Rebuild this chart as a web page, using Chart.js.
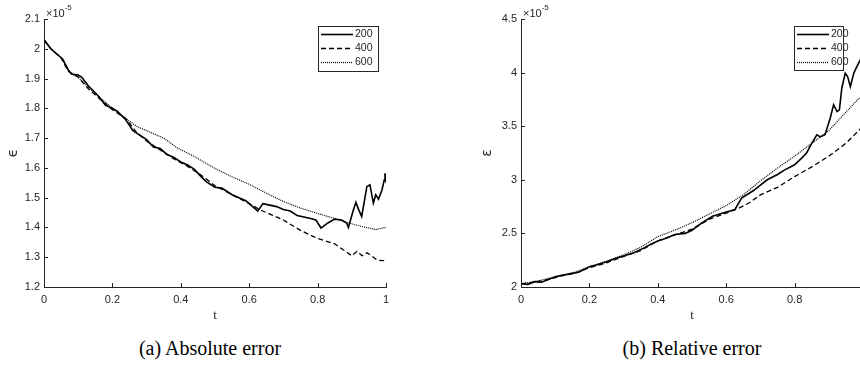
<!DOCTYPE html>
<html>
<head>
<meta charset="utf-8">
<script src="https://cdn.jsdelivr.net/npm/chart.js@4.4.1/dist/chart.umd.min.js"></script>
<style>
html, body { margin: 0; padding: 0; background: #fff; width: 860px; height: 379px; overflow: hidden; position: relative; }
canvas { position: absolute; top: 0; }
#absChart { left: 0; }
#relChart { left: 470px; }
.cap { position: absolute; top: 337px; font-family: "Liberation Serif", "Times New Roman", serif; font-size: 20px; color: #000; white-space: nowrap; transform: translateX(-50%); }
</style>
</head>
<body>
<canvas id="absChart" width="420" height="330"></canvas>
<canvas id="relChart" width="410" height="330"></canvas>
<div class="cap" style="left:210px">(a) Absolute error</div>
<div class="cap" style="left:692px">(b) Relative error</div>
<script>
// values are in units of 1e-5
const seriesLabels = ["200", "400", "600"];
const xTickVals = [0, 0.2, 0.4, 0.6, 0.8, 1];
const absYTicks = [1.2, 1.3, 1.4, 1.5, 1.6, 1.7, 1.8, 1.9, 2, 2.1];
const relYTicks = [2, 2.5, 3, 3.5, 4, 4.5];

// (a) absolute error
const absT200 = [0, 0.01, 0.02, 0.04, 0.055, 0.07, 0.08, 0.1, 0.11, 0.13, 0.16, 0.18, 0.2, 0.215, 0.24, 0.26, 0.28, 0.3, 0.32, 0.34, 0.36, 0.38, 0.4, 0.42, 0.44, 0.46, 0.475, 0.5, 0.52, 0.55, 0.57, 0.59, 0.605, 0.625, 0.64, 0.66, 0.68, 0.7, 0.72, 0.74, 0.76, 0.78, 0.795, 0.81, 0.83, 0.85, 0.87, 0.885, 0.89, 0.905, 0.912, 0.92, 0.929, 0.944, 0.953, 0.963, 0.97, 0.978, 0.988, 0.995, 0.997, 1];
const absE200 = [2.03, 2.015, 2.0, 1.98, 1.965, 1.93, 1.915, 1.912, 1.905, 1.875, 1.84, 1.81, 1.80, 1.79, 1.76, 1.725, 1.71, 1.695, 1.67, 1.665, 1.645, 1.635, 1.62, 1.61, 1.595, 1.57, 1.553, 1.535, 1.532, 1.51, 1.5, 1.49, 1.475, 1.455, 1.48, 1.475, 1.47, 1.46, 1.455, 1.44, 1.435, 1.43, 1.425, 1.398, 1.415, 1.428, 1.425, 1.415, 1.40, 1.46, 1.484, 1.46, 1.437, 1.537, 1.543, 1.482, 1.51, 1.495, 1.525, 1.56, 1.582, 1.55];
const absT400 = [0, 0.02, 0.05, 0.07, 0.1, 0.13, 0.16, 0.2, 0.24, 0.27, 0.3, 0.34, 0.38, 0.42, 0.46, 0.5, 0.55, 0.6, 0.63, 0.66, 0.7, 0.75, 0.8, 0.85, 0.9, 0.915, 0.93, 0.945, 0.975, 1];
const absE400 = [2.03, 2.0, 1.97, 1.925, 1.905, 1.865, 1.835, 1.795, 1.765, 1.72, 1.69, 1.66, 1.63, 1.605, 1.575, 1.54, 1.51, 1.48, 1.46, 1.445, 1.425, 1.39, 1.363, 1.345, 1.305, 1.32, 1.305, 1.315, 1.29, 1.288];
const absT600 = [0, 0.02, 0.05, 0.08, 0.1, 0.13, 0.16, 0.2, 0.24, 0.27, 0.3, 0.35, 0.39, 0.44, 0.5, 0.55, 0.6, 0.65, 0.7, 0.75, 0.8, 0.85, 0.9, 0.93, 0.97, 1];
const absE600 = [2.03, 2.0, 1.97, 1.915, 1.905, 1.87, 1.84, 1.80, 1.765, 1.74, 1.725, 1.70, 1.667, 1.638, 1.598, 1.57, 1.545, 1.515, 1.487, 1.465, 1.447, 1.43, 1.412, 1.403, 1.393, 1.40];

// (b) relative error
const relT200 = [0, 0.02, 0.04, 0.06, 0.08, 0.1, 0.12, 0.14, 0.17, 0.2, 0.22, 0.25, 0.28, 0.3, 0.33, 0.36, 0.38, 0.4, 0.42, 0.45, 0.48, 0.5, 0.53, 0.56, 0.6, 0.625, 0.645, 0.68, 0.7, 0.72, 0.75, 0.77, 0.8, 0.82, 0.835, 0.85, 0.865, 0.875, 0.889, 0.904, 0.914, 0.924, 0.931, 0.938, 0.948, 0.955, 0.963, 0.973, 0.982, 0.992, 1];
const relE200 = [2.03, 2.025, 2.05, 2.045, 2.07, 2.095, 2.11, 2.12, 2.14, 2.19, 2.205, 2.235, 2.27, 2.29, 2.32, 2.365, 2.40, 2.43, 2.45, 2.49, 2.50, 2.53, 2.60, 2.66, 2.70, 2.72, 2.83, 2.90, 2.95, 3.0, 3.05, 3.09, 3.14, 3.2, 3.25, 3.34, 3.42, 3.40, 3.42, 3.575, 3.70, 3.636, 3.652, 3.854, 3.994, 3.963, 3.869, 3.994, 4.056, 4.118, 4.15];
const relT400 = [0, 0.04, 0.08, 0.12, 0.16, 0.2, 0.25, 0.3, 0.35, 0.4, 0.45, 0.5, 0.55, 0.6, 0.64, 0.67, 0.7, 0.75, 0.8, 0.85, 0.9, 0.95, 1];
const relE400 = [2.03, 2.045, 2.07, 2.105, 2.13, 2.18, 2.225, 2.285, 2.34, 2.43, 2.485, 2.54, 2.63, 2.69, 2.74, 2.79, 2.86, 2.93, 3.03, 3.12, 3.22, 3.34, 3.50];
const relT600 = [0, 0.04, 0.08, 0.12, 0.16, 0.2, 0.25, 0.3, 0.35, 0.4, 0.45, 0.5, 0.55, 0.6, 0.65, 0.7, 0.75, 0.8, 0.85, 0.9, 0.95, 1];
const relE600 = [2.03, 2.05, 2.08, 2.11, 2.14, 2.19, 2.24, 2.30, 2.37, 2.47, 2.53, 2.60, 2.68, 2.76, 2.86, 2.99, 3.11, 3.22, 3.34, 3.46, 3.63, 3.80];

const axisColor = "#262626";
const sansFont = '"Liberation Sans", Arial, Helvetica, sans-serif';
const lineStyles = [
    { borderWidth: 1.6, borderDash: [] },
    { borderWidth: 1.3, borderDash: [5, 3] },
    { borderWidth: 1.2, borderDash: [1, 1] }
];

function pts(ts, vs) {
    return ts.map((t, i) => ({ x: t, y: vs[i] }));
}

function fmtTick(v) {
    return String(Number(v.toFixed(2)));
}

// matlab look: inward tick marks, x10^-5 multiplier, framed legend inside the axes
const matlabAxes = {
    id: "matlabAxes",
    afterDraw(chart, args, opts) {
        const ctx = chart.ctx;
        const a = chart.chartArea;
        const xs = chart.scales.x;
        const ys = chart.scales.y;
        ctx.save();
        ctx.strokeStyle = axisColor;
        ctx.lineWidth = 1;
        ctx.setLineDash([]);
        ctx.beginPath();
        xs.ticks.forEach((tk, i) => {
            const px = Math.round(xs.getPixelForTick(i)) + 0.5;
            ctx.moveTo(px, a.bottom);
            ctx.lineTo(px, a.bottom - 4);
        });
        ys.ticks.forEach((tk, i) => {
            const py = Math.round(ys.getPixelForTick(i)) + 0.5;
            ctx.moveTo(a.left, py);
            ctx.lineTo(a.left + 4, py);
        });
        ctx.stroke();

        // exponent
        ctx.fillStyle = axisColor;
        ctx.textAlign = "left";
        ctx.textBaseline = "alphabetic";
        ctx.font = "11px " + sansFont;
        ctx.fillText("\u00d710", a.left + 2, a.top - 2);
        const w = ctx.measureText("\u00d710").width;
        ctx.font = "8px " + sansFont;
        ctx.fillText("-5", a.left + 2 + w, a.top - 9);

        // legend
        const lg = opts.legend;
        ctx.fillStyle = "#fff";
        ctx.fillRect(lg.left, lg.top, lg.width, lg.height);
        ctx.strokeStyle = axisColor;
        ctx.lineWidth = 1;
        ctx.strokeRect(lg.left + 0.5, lg.top + 0.5, lg.width, lg.height);
        ctx.font = "10.5px " + sansFont;
        ctx.textBaseline = "middle";
        chart.data.datasets.forEach((ds, i) => {
            const cy = lg.top + 8.5 + i * 14;
            ctx.strokeStyle = "#000";
            ctx.lineWidth = ds.borderWidth;
            ctx.setLineDash(ds.borderDash);
            ctx.beginPath();
            ctx.moveTo(lg.left + 3, cy);
            ctx.lineTo(lg.left + 35, cy);
            ctx.stroke();
            ctx.fillStyle = axisColor;
            ctx.fillText(ds.label, lg.left + 37, cy);
        });
        ctx.restore();
    }
};

function makeChart(canvasId, series, yMin, yMax, yTicks, yTitle, yWidth, yTitlePad, padRight, legendBox) {
    const datasets = series.map((s, i) => ({
        label: seriesLabels[i],
        data: pts(s[0], s[1]),
        borderColor: "#000",
        backgroundColor: "#000",
        borderWidth: lineStyles[i].borderWidth,
        borderDash: lineStyles[i].borderDash,
        pointRadius: 0,
        tension: 0,
        fill: false
    }));
    return new Chart(document.getElementById(canvasId), {
        type: "line",
        data: { datasets: datasets },
        plugins: [matlabAxes],
        options: {
            responsive: false,
            animation: false,
            events: [],
            layout: { padding: { left: 0, top: 19, right: padRight, bottom: 0 } },
            plugins: {
                legend: { display: false },
                tooltip: { enabled: false },
                matlabAxes: { legend: legendBox }
            },
            scales: {
                x: {
                    type: "linear",
                    min: 0,
                    max: 1,
                    afterBuildTicks: (s) => { s.ticks = xTickVals.map((v) => ({ value: v })); },
                    afterFit: (s) => { s.height = 43; },
                    grid: { display: false, drawTicks: false },
                    border: { display: true, color: axisColor, width: 1 },
                    ticks: {
                        color: axisColor,
                        padding: 6,
                        maxRotation: 0,
                        font: { family: sansFont, size: 11 },
                        callback: (v) => fmtTick(v)
                    },
                    title: {
                        display: true,
                        text: "t",
                        color: axisColor,
                        font: { family: '"Liberation Serif", "Times New Roman", serif', size: 13 },
                        padding: { top: 0, bottom: 7 }
                    }
                },
                y: {
                    type: "linear",
                    min: yMin,
                    max: yMax,
                    afterBuildTicks: (s) => { s.ticks = yTicks.map((v) => ({ value: v })); },
                    afterFit: (s) => { s.width = yWidth; },
                    grid: { display: false, drawTicks: false },
                    border: { display: true, color: axisColor, width: 1 },
                    ticks: {
                        color: axisColor,
                        padding: 4,
                        font: { family: sansFont, size: 11 },
                        callback: (v) => fmtTick(v)
                    },
                    title: {
                        display: true,
                        text: yTitle,
                        color: axisColor,
                        font: { family: '"DejaVu Sans", sans-serif', size: 14 },
                        padding: { top: yTitlePad, bottom: 0 }
                    }
                }
            }
        }
    });
}

makeChart("absChart",
    [[absT200, absE200], [absT400, absE400], [absT600, absE600]],
    1.2, 2.1, absYTicks, "\u03f5", 44, 5, 34,
    { left: 318, top: 26, width: 60, height: 45 });

makeChart("relChart",
    [[relT200, relE200], [relT400, relE400], [relT600, relE600]],
    2, 4.5, relYTicks, "\u03b5", 51, 9, 17,
    { left: 324, top: 26, width: 49, height: 44 });
</script>
</body>
</html>
